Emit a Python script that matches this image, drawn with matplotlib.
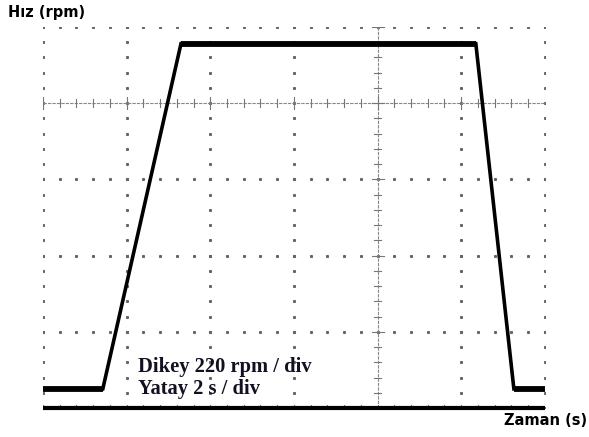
import numpy as np
import matplotlib
matplotlib.use("Agg")
import matplotlib.pyplot as plt

# speed profile (2 s/div, 220 rpm/div)
time_s = [0.0, 1.43, 3.30, 10.35, 11.26, 12.0]
speed_rpm = [55, 55, 1052, 1052, 55, 55]

x_div = 2.0      # s per division
y_div = 220.0    # rpm per division
n_xdiv = 6
n_ydiv = 5
x_axis_at = 8.0     # vertical centre line (s)
y_axis_at = 880.0   # horizontal centre line (rpm)

fig = plt.figure(figsize=(5.89, 4.37), dpi=100)
ax = fig.add_axes([0.073, 0.0664, 0.852, 0.8718])
ax.set_xlim(0, n_xdiv * x_div)
ax.set_ylim(0, n_ydiv * y_div)
ax.axis("off")

dot = dict(color="#666666", marker="s", markersize=1.2, linestyle="none")
xmin_ticks = np.arange(0, n_xdiv * x_div + 0.01, x_div / 5)
ymin_ticks = np.arange(0, n_ydiv * y_div + 0.01, y_div / 5)

# dotted graticule
for gx in np.arange(0, n_xdiv * x_div + 0.01, x_div):
    if gx != x_axis_at:
        ax.plot(np.full_like(ymin_ticks, gx), ymin_ticks, **dot)
for gy in np.arange(y_div, n_ydiv * y_div + 0.01, y_div):
    if gy != y_axis_at:
        ax.plot(xmin_ticks, np.full_like(xmin_ticks, gy), **dot)

# centre cross with minor ticks
ax.axhline(y_axis_at, color="#888888", lw=0.8, ls=(0, (3, 1)))
ax.axvline(x_axis_at, color="#888888", lw=0.8, ls=(0, (3, 1)))
tx = 0.045 * x_div
ty = 0.05 * y_div
for i, t in enumerate(xmin_ticks):
    h = ty * (1.6 if i % 5 == 0 else 1.0)
    ax.plot([t, t], [y_axis_at - h, y_axis_at + h], color="#777777", lw=0.8)
    ax.plot([t, t], [0, ty * 0.9], color="#777777", lw=0.8)
for i, t in enumerate(ymin_ticks):
    w = tx * (1.6 if i % 5 == 0 else 1.0)
    ax.plot([x_axis_at - w, x_axis_at + w], [t, t], color="#777777", lw=0.8)

# bottom base line
ax.plot([0, n_xdiv * x_div], [0, 0], color="black", lw=3, solid_capstyle="butt",
        clip_on=False)

# trace: ramps thinner, noisy flat levels thicker
ax.plot(time_s, speed_rpm, color="black", lw=2.6, solid_joinstyle="miter")
for a, b in [(0, 1), (2, 3), (4, 5)]:
    ax.plot(time_s[a:b + 1], speed_rpm[a:b + 1], color="black", lw=4.2,
            solid_capstyle="butt")

ax.text(2.27, 103, "Dikey 220 rpm / div", family="Liberation Serif",
        fontweight="bold", fontsize=14.8, color="#111122", va="baseline")
ax.text(2.27, 40, "Yatay 2 s / div", family="Liberation Serif",
        fontweight="bold", fontsize=14.8, color="#111122", va="baseline")

fig.text(0.013, 0.972, "Hız (rpm)", family="DejaVu Sans", fontweight="bold",
         fontsize=10.5, va="center", ha="left")
fig.text(0.997, 0.038, "Zaman (s)", family="DejaVu Sans", fontweight="bold",
         fontsize=10.5, va="center", ha="right")

plt.savefig("out.png", dpi=100)
